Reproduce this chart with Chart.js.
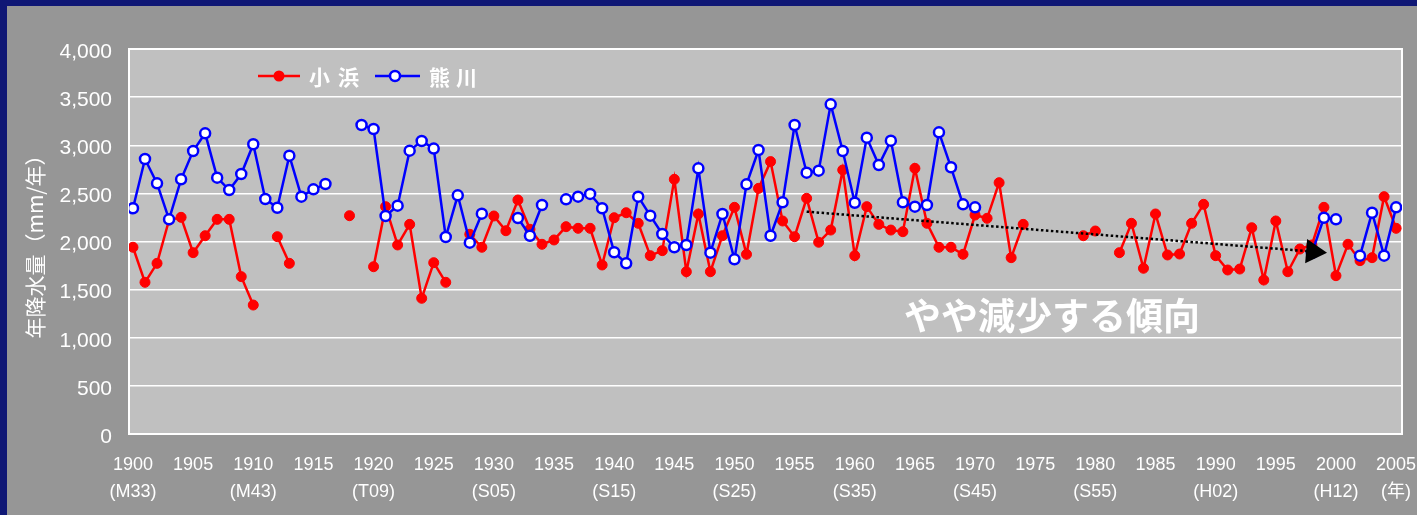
<!DOCTYPE html>
<html><head><meta charset="utf-8">
<script src="https://cdn.jsdelivr.net/npm/chart.js@4"></script>
<style>
html,body{margin:0;padding:0;background:#0f1775;width:1417px;height:515px;overflow:hidden}
#wrap{position:absolute;left:7px;top:6px;width:1410px;height:509px}
</style></head><body>
<div id="wrap"><canvas id="c" width="1410" height="509"></canvas></div>
<script>
const years = [
 1900,1901,1902,1903,1904,1905,1906,1907,1908,1909,
 1910,1911,1912,1913,1914,1915,1916,1917,1918,1919,
 1920,1921,1922,1923,1924,1925,1926,1927,1928,1929,
 1930,1931,1932,1933,1934,1935,1936,1937,1938,1939,
 1940,1941,1942,1943,1944,1945,1946,1947,1948,1949,
 1950,1951,1952,1953,1954,1955,1956,1957,1958,1959,
 1960,1961,1962,1963,1964,1965,1966,1967,1968,1969,
 1970,1971,1972,1973,1974,1975,1976,1977,1978,1979,
 1980,1981,1982,1983,1984,1985,1986,1987,1988,1989,
 1990,1991,1992,1993,1994,1995,1996,1997,1998,1999,
 2000,2001,2002,2003,2004,2005];

// 小浜 (Obama) annual precipitation, mm/year
const obama = [
 1940,1576,1773,2223,2251,1884,2060,2230,2230,1635,
 1340,null,2050,1773,null,null,null,null,2268,null,
 1738,2362,1964,2178,1410,1780,1576,null,2075,1940,
 2265,2112,2431,2127,1971,2016,2154,2137,2137,1756,
 2247,2299,2189,1853,1905,2646,1686,2286,1686,2060,
 2355,1867,2552,2830,2213,2050,2449,1992,2119,2743,
 1853,2362,2178,2119,2102,2760,2189,1940,1940,1867,
 2275,2241,2611,1832,2178,null,null,null,null,2060,
 2109,null,1884,2189,1722,2286,1860,1870,2189,2386,
 1853,1704,1714,2143,1600,2213,1686,1922,1964,2355,
 1645,1971,1801,1832,2466,2137];

// 熊川 (Kumagawa) annual precipitation, mm/year
const kumagawa = [
 2345,2857,2604,2230,2646,2940,3124,2663,2535,2701,
 3010,2442,2351,2892,2466,2542,2597,null,null,3210,
 3169,2265,2372,2944,3044,2965,2047,2480,1988,2289,
 null,null,2244,2060,2379,null,2438,2466,2494,2345,
 1888,1773,2466,2268,2078,1940,1964,2760,1884,2286,
 1815,2594,2951,2060,2407,3210,2715,2736,3425,2940,
 2403,3079,2795,3048,2407,2362,2379,3134,2771,2386,
 2355,null,null,null,null,null,null,null,null,null,
 null,null,null,null,null,null,null,null,null,null,
 null,null,null,null,null,null,null,null,1880,2247,
 2230,null,1853,2299,1853,2355];

// trend arrow (start, end)
const trendYears = [1956, 1998.1];
const trendValues = [2310, 1895];

const tickYears = [1900,1905,1910,1915,1920,1925,1930,1935,1940,1945,1950,1955,1960,1965,1970,1975,1980,1985,1990,1995,2000,2005];
const eraLabels = ['(M33)','','(M43)','','(T09)','','(S05)','','(S15)','','(S25)','','(S35)','','(S45)','','(S55)','','(H02)','','(H12)','(年)'];

const seriesNames = ['小浜','熊川'];
const annotationText = 'やや減少する傾向';

const toPts = vals => years.map((yr,i)=>({x:yr,y:vals[i]}));

function spacedText(ctx, text, x, y, step){
  [...text].forEach((ch,i)=>ctx.fillText(ch, x + i*step, y));
}

const decorPlugin = {
  id:'decor',
  beforeDraw(chart){
    const {ctx, chartArea:a} = chart;
    ctx.save();
    ctx.fillStyle='#969696';
    ctx.fillRect(0,0,chart.width,chart.height);
    ctx.fillStyle='#c0c0c0';
    ctx.fillRect(a.left,a.top,a.right-a.left,a.bottom-a.top);
    ctx.restore();
  },
  beforeDatasetsDraw(chart){
    const {ctx, chartArea:a} = chart;
    ctx.save();
    ctx.strokeStyle='#ffffff';
    ctx.lineWidth=2;
    ctx.strokeRect(a.left,a.top,a.right-a.left,a.bottom-a.top);
    ctx.restore();
  },
  afterDraw(chart){
    const {ctx, chartArea:a, scales} = chart;
    ctx.save();
    const ly = a.top + 27;
    // red legend
    ctx.strokeStyle='#ff0000'; ctx.lineWidth=2.5;
    ctx.beginPath(); ctx.moveTo(a.left+129,ly); ctx.lineTo(a.left+171,ly); ctx.stroke();
    ctx.fillStyle='#ff0000';
    ctx.beginPath(); ctx.arc(a.left+150,ly,5.5,0,Math.PI*2); ctx.fill();
    ctx.fillStyle='#ffffff';
    ctx.font='bold 21px "Noto Sans CJK JP"';
    ctx.textBaseline='middle'; ctx.textAlign='left';
    spacedText(ctx, seriesNames[0], a.left+180, ly+1, 29);
    // blue legend
    ctx.strokeStyle='#0000ff'; ctx.lineWidth=2.5;
    ctx.beginPath(); ctx.moveTo(a.left+246,ly); ctx.lineTo(a.left+291,ly); ctx.stroke();
    ctx.fillStyle='#ffffff';
    ctx.beginPath(); ctx.arc(a.left+266,ly,5,0,Math.PI*2); ctx.fill(); ctx.stroke();
    ctx.fillStyle='#ffffff';
    spacedText(ctx, seriesNames[1], a.left+300, ly+1, 27);
    // annotation text
    ctx.font='bold 37px "Noto Sans CJK JP"';
    ctx.textAlign='center';
    ctx.fillText(annotationText, scales.x.getPixelForValue(1976.4), scales.y.getPixelForValue(1225));
    ctx.restore();
  }
};

new Chart(document.getElementById('c'), {
  type:'line',
  data:{
    datasets:[
      { label:seriesNames[0], data:toPts(obama), borderColor:'#ff0000', backgroundColor:'#ff0000',
        borderWidth:2.5, pointRadius:5, pointBackgroundColor:'#ff0000', pointBorderColor:'#ff0000',
        pointBorderWidth:1, order:2, tension:0 },
      { label:seriesNames[1], data:toPts(kumagawa), borderColor:'#0000ff', backgroundColor:'#ffffff',
        borderWidth:2.5, pointRadius:5, pointBackgroundColor:'#ffffff', pointBorderColor:'#0000ff',
        pointBorderWidth:2.5, order:1, tension:0 },
      { label:'trend', data:trendYears.map((x,i)=>({x:x,y:trendValues[i]})), borderColor:'#000000',
        borderDash:[2.5,2.5], borderWidth:2.5, pointRadius:[0,14], pointStyle:'triangle',
        pointRotation:94.6, pointBackgroundColor:'#000000', pointBorderColor:'#000000', pointBorderWidth:0,
        order:0, tension:0 }
    ]
  },
  options:{
    responsive:false, animation:false,
    layout:{ padding:{ left:0, right:15, top:43, bottom:0 } },
    plugins:{ legend:{display:false}, tooltip:{enabled:false} },
    scales:{
      x:{
        type:'linear', min:1899.67, max:2005.49,
        afterBuildTicks(s){ s.ticks = tickYears.map(v=>({value:v})); },
        afterFit(s){ s.height = 81; s.paddingLeft = 0; s.paddingRight = 0; },
        ticks:{ color:'#ffffff', font:{family:'"Liberation Sans", "Noto Sans CJK JP"', size:18, lineHeight:1.5},
          padding:18, maxRotation:0, autoSkip:false,
          callback:(v,i)=>[String(tickYears[i]), eraLabels[i]] },
        grid:{ display:false, drawTicks:false },
        border:{ color:'#ffffff', width:2 }
      },
      y:{
        min:0, max:4000,
        afterFit(s){ s.width = 122; },
        ticks:{ stepSize:500, color:'#ffffff', font:{family:'"Liberation Sans"', size:21},
          padding:17, labelOffset:3, callback:v=>v.toLocaleString('en-US') },
        grid:{ color:'#ffffff', lineWidth:1.5, drawTicks:false },
        border:{ color:'#ffffff', width:2 },
        title:{ display:true, text:'年降水量（mm/年）', color:'#ffffff',
          font:{family:'"Noto Sans CJK JP"', size:21}, padding:{top:15,bottom:0} }
      }
    }
  },
  plugins:[decorPlugin]
});
</script>
</body></html>
